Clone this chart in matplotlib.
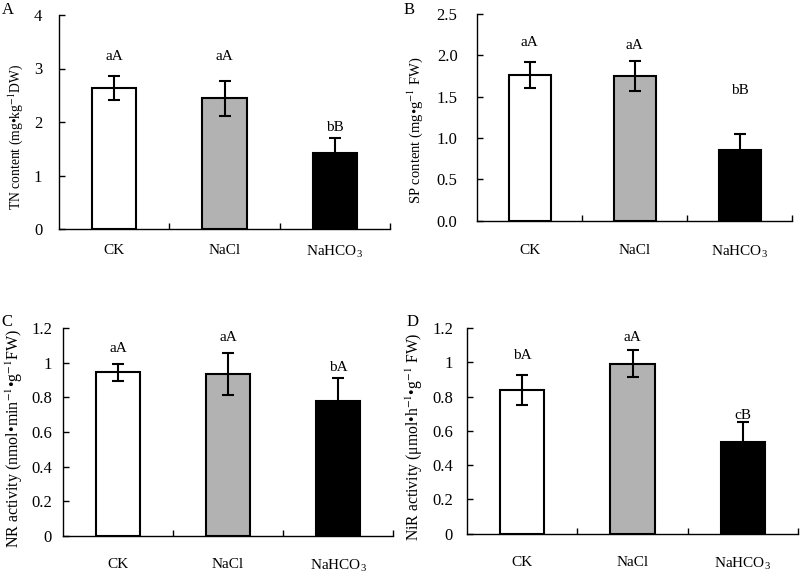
import matplotlib
matplotlib.use("Agg")
import matplotlib.pyplot as plt
import numpy as np

plt.rcParams['font.family'] = ['Liberation Serif', 'DejaVu Serif']
plt.rcParams['mathtext.fontset'] = 'stix'

categories = ['CK', 'NaCl', r'$\mathregular{NaHCO_3}$']

tn_mean = [2.64, 2.44, 1.42]
tn_err = [0.22, 0.33, 0.29]
tn_letters = ['aA', 'aA', 'bB']
tn_letter_y = [3.23, 3.23, 1.89]

sp_mean = [1.76, 1.75, 0.85]
sp_err = [0.16, 0.18, 0.20]
sp_letters = ['aA', 'aA', 'bB']
sp_letter_y = [2.15, 2.125, 1.58]

nr_mean = [0.945, 0.933, 0.779]
nr_err = [0.05, 0.12, 0.13]
nr_letters = ['aA', 'aA', 'bA']
nr_letter_y = [1.08, 1.148, 0.971]

nir_mean = [0.838, 0.992, 0.537]
nir_err = [0.09, 0.08, 0.115]
nir_letters = ['bA', 'aA', 'cB']
nir_letter_y = [1.037, 1.147, 0.69]

bar_colors = ['white', '#b2b2b2', 'black']

W, H = 800, 573
fig = plt.figure(figsize=(W / 100, H / 100), dpi=100)

def px_axes(left, right, top, bottom):
    return fig.add_axes([left / W, (H - bottom) / H, (right - left) / W, (bottom - top) / H])

panels = [
    dict(box=(59, 390, 15, 229), mean=tn_mean, err=tn_err, letters=tn_letters, ly=tn_letter_y,
         ylim=(0, 4), yticks=[0, 1, 2, 3, 4], ylabels=['0', '1', '2', '3', '4'],
         ylabel='TN content (mg•kg$^{-1}$DW)', ylsize=9.8, ytpad=12, xtpad=11, labx=16, laby=137,
         tag='A', tagxy=(8, 10)),
    dict(box=(477, 792, 14, 220.7), mean=sp_mean, err=sp_err, letters=sp_letters, ly=sp_letter_y,
         ylim=(0, 2.5), yticks=[0, 0.5, 1.0, 1.5, 2.0, 2.5],
         ylabels=['0.0', '0.5', '1.0', '1.5', '2.0', '2.5'],
         ylabel='SP content (mg•g$^{-1}$ FW)', ylsize=10.5, ytpad=14, xtpad=17, labx=415, laby=130,
         tag='B', tagxy=(409, 10)),
    dict(box=(63, 393, 328, 536), mean=nr_mean, err=nr_err, letters=nr_letters, ly=nr_letter_y,
         ylim=(0, 1.2), yticks=[0, 0.2, 0.4, 0.6, 0.8, 1.0, 1.2],
         ylabels=['0', '0.2', '0.4', '0.6', '0.8', '1', '1.2'],
         ylabel='NR activity (nmol•min$^{-1}$•g$^{-1}$FW)', ylsize=11.5, ytpad=8, xtpad=16, labx=14, laby=438,
         tag='C', tagxy=(7, 322)),
    dict(box=(467, 798, 328, 533.7), mean=nir_mean, err=nir_err, letters=nir_letters, ly=nir_letter_y,
         ylim=(0, 1.2), yticks=[0, 0.2, 0.4, 0.6, 0.8, 1.0, 1.2],
         ylabels=['0', '0.2', '0.4', '0.6', '0.8', '1', '1.2'],
         ylabel='NiR activity (μmol•h$^{-1}$•g$^{-1}$ FW)', ylsize=11.3, ytpad=10, xtpad=16, labx=414, laby=437,
         tag='D', tagxy=(413, 322)),
]

x = np.arange(len(categories))
for p in panels:
    l, r, t, b = p['box']
    ax = px_axes(l, r, t, b)
    ax.bar(x, p['mean'], width=0.4, color=bar_colors, edgecolor='black', linewidth=1.5, zorder=2)
    ax.errorbar(x, p['mean'], yerr=p['err'], fmt='none', ecolor='black', elinewidth=1.5,
                capsize=4, capthick=1.5, zorder=3)
    for xi, s, yy in zip(x, p['letters'], p['ly']):
        ax.text(xi, yy, s, ha='center', va='center', fontsize=11)
    ax.set_xlim(-0.5, 2.5)
    ax.set_ylim(*p['ylim'])
    ax.set_yticks(p['yticks'])
    ax.set_yticklabels(p['ylabels'])
    ax.set_xticks([0.5, 1.5, 2.5])
    ax.set_xticklabels([])
    ax.set_xticks(x, minor=True)
    ax.set_xticklabels(categories, minor=True)
    ax.tick_params(axis='x', which='major', direction='in', length=4, width=1)
    ax.tick_params(axis='x', which='minor', length=0, pad=p['xtpad'], labelsize=11)
    ax.tick_params(axis='y', direction='in', length=4, width=1, pad=p['ytpad'], labelsize=12)
    for s in ['top', 'right']:
        ax.spines[s].set_visible(False)
    for s in ['left', 'bottom']:
        ax.spines[s].set_linewidth(1)
    ax.set_ylabel(p['ylabel'], fontsize=p['ylsize'], va='center')
    ax.yaxis.set_label_coords((p['labx'] - l) / (r - l), (b - p['laby']) / (b - t))
    fig.text(p['tagxy'][0] / W, 1 - p['tagxy'][1] / H, p['tag'], ha='center', va='center', fontsize=12)

fig.savefig('out.png', dpi=100)
